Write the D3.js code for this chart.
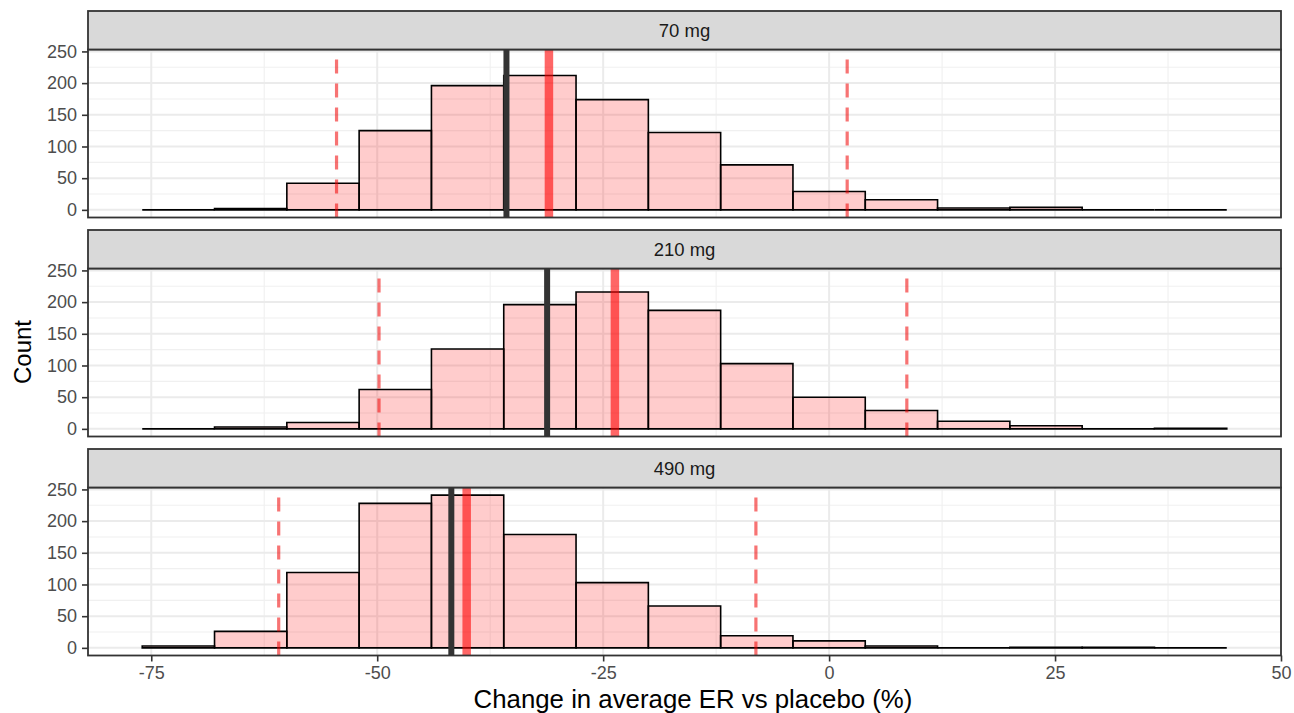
<!DOCTYPE html>
<html>
<head>
<meta charset="utf-8">
<script src="https://cdn.jsdelivr.net/npm/d3@7"></script>
<style>
  html, body { margin: 0; padding: 0; background: #ffffff; }
  svg { display: block; font-family: "Liberation Sans", Arial, sans-serif; }
</style>
</head>
<body>
<svg id="chart" width="1294" height="713"></svg>
<script>
// Dose groups shown as facets
const doses = ["70 mg", "210 mg", "490 mg"];

// Histogram bin edges (width 8)
const binStart = [-76, -68, -60, -52, -44, -36, -28, -20, -12, -4, 4, 12, 20, 28, 36];
const binEnd   = [-68, -60, -52, -44, -36, -28, -20, -12, -4, 4, 12, 20, 28, 36, 44];

// Counts per bin for each dose
const counts70  = [0, 2, 42, 125, 196, 212, 174, 122, 71, 29, 16, 3, 4, 0, 0];
const counts210 = [0, 3, 10, 62, 126, 196, 216, 187, 103, 50, 29, 12, 5, 0, 1];
const counts490 = [3, 26, 119, 228, 241, 179, 103, 66, 19, 11, 3, 0, 1, 1, 0];

// Reference lines per dose (% change)
const observedLine = [-35.7, -31.2, -41.8];   // dark solid
const medianLine   = [-31.0, -23.7, -40.1];   // red solid
const lowerLine    = [-54.5, -49.8, -60.9];   // red dashed
const upperLine    = [2.0, 8.6, -8.1];        // red dashed

// Axis ticks
const xTicks = [-75, -50, -25, 0, 25, 50];
const xMinor = [-62.5, -37.5, -12.5, 12.5, 37.5];
const yTicks = [0, 50, 100, 150, 200, 250];
const yMinor = [25, 75, 125, 175, 225];

const allCounts = [counts70, counts210, counts490];

const svg = d3.select("#chart");

const left = 88, right = 1281;
const top0 = 11, stripH = 38.5, panelH = 168, rowStep = 219;

// Shared x scale with 5% padding around the bin range
const xLo = d3.min(binStart), xHi = d3.max(binEnd);
const xPad = (xHi - xLo) * 0.05;
const x = d3.scaleLinear().domain([xLo - xPad, xHi + xPad]).range([left, right]);

const yMax = d3.max(allCounts.flat());
const yPad = yMax * 0.05;

const plainNum = d => String(d);

doses.forEach((dose, i) => {
  const stripTop = top0 + i * rowStep;
  const pTop = stripTop + stripH;
  const pBot = pTop + panelH;
  const y = d3.scaleLinear().domain([-yPad, yMax + yPad]).range([pBot, pTop]);

  const g = svg.append("g");

  // panel background
  g.append("rect").attr("x", left).attr("y", pTop)
    .attr("width", right - left).attr("height", panelH).attr("fill", "#ffffff");

  // minor grid
  g.selectAll(".ymin").data(yMinor).join("line")
    .attr("x1", left).attr("x2", right)
    .attr("y1", d => y(d)).attr("y2", d => y(d))
    .attr("stroke", "#F0F0F0").attr("stroke-width", 1.1);
  g.selectAll(".xmin").data(xMinor).join("line")
    .attr("y1", pTop).attr("y2", pBot)
    .attr("x1", d => x(d)).attr("x2", d => x(d))
    .attr("stroke", "#F0F0F0").attr("stroke-width", 1.1);
  // major grid
  g.selectAll(".ymaj").data(yTicks).join("line")
    .attr("x1", left).attr("x2", right)
    .attr("y1", d => y(d)).attr("y2", d => y(d))
    .attr("stroke", "#EBEBEB").attr("stroke-width", 2);
  g.selectAll(".xmaj").data(xTicks).join("line")
    .attr("y1", pTop).attr("y2", pBot)
    .attr("x1", d => x(d)).attr("x2", d => x(d))
    .attr("stroke", "#EBEBEB").attr("stroke-width", 2);

  // histogram bars (paths, so empty bins still show as a flat outline)
  const bins = binStart.map((s, k) => ({ x0: s, x1: binEnd[k], n: allCounts[i][k] }));
  g.selectAll(".bar").data(bins).join("path")
    .attr("d", d => `M${x(d.x0)},${y(0)}V${y(d.n)}H${x(d.x1)}V${y(0)}Z`)
    .attr("fill", "rgba(255,0,0,0.2)")
    .attr("stroke", "#000000")
    .attr("stroke-width", 1.6);

  // reference lines
  g.append("line")
    .attr("x1", x(observedLine[i])).attr("x2", x(observedLine[i]))
    .attr("y1", pBot).attr("y2", pTop)
    .attr("stroke", "#333333").attr("stroke-width", 6);
  g.append("line")
    .attr("x1", x(medianLine[i])).attr("x2", x(medianLine[i]))
    .attr("y1", pBot).attr("y2", pTop)
    .attr("stroke", "rgba(255,0,0,0.6)").attr("stroke-width", 8.5);
  [lowerLine[i], upperLine[i]].forEach(v => {
    g.append("line")
      .attr("x1", x(v)).attr("x2", x(v))
      .attr("y1", pBot).attr("y2", pTop)
      .attr("stroke", "rgba(240,0,0,0.55)").attr("stroke-width", 3.2)
      .attr("stroke-dasharray", "14 10");
  });

  // panel border
  g.append("rect").attr("x", left).attr("y", pTop)
    .attr("width", right - left).attr("height", panelH)
    .attr("fill", "none").attr("stroke", "#333333").attr("stroke-width", 1.8);

  // strip
  g.append("rect").attr("x", left).attr("y", stripTop)
    .attr("width", right - left).attr("height", stripH)
    .attr("fill", "#D9D9D9").attr("stroke", "#333333").attr("stroke-width", 1.8);
  g.append("text")
    .attr("x", (left + right) / 2).attr("y", stripTop + stripH / 2)
    .attr("dy", "0.35em").attr("text-anchor", "middle")
    .attr("font-size", 18.5).attr("fill", "#1A1A1A")
    .text(dose);

  // y axis
  const yAxis = d3.axisLeft(y).tickValues(yTicks).tickFormat(plainNum).tickSize(6).tickPadding(5);
  const ya = svg.append("g").attr("transform", `translate(${left},0)`).call(yAxis);
  ya.select(".domain").remove();
  ya.selectAll(".tick line").attr("stroke", "#333333").attr("stroke-width", 1.6);
  ya.selectAll(".tick text").attr("fill", "#4D4D4D").attr("font-size", 18)
    .attr("font-family", "Liberation Sans, Arial, sans-serif");

  // x axis on the bottom panel only
  if (i === doses.length - 1) {
    const xAxis = d3.axisBottom(x).tickValues(xTicks).tickFormat(plainNum).tickSize(6).tickPadding(5);
    const xa = svg.append("g").attr("transform", `translate(0,${pBot})`).call(xAxis);
    xa.select(".domain").remove();
    xa.selectAll(".tick line").attr("stroke", "#333333").attr("stroke-width", 1.6);
    xa.selectAll(".tick text").attr("fill", "#4D4D4D").attr("font-size", 18)
      .attr("font-family", "Liberation Sans, Arial, sans-serif");
  }
});

// axis titles
svg.append("text")
  .attr("x", 693).attr("y", 708)
  .attr("text-anchor", "middle").attr("font-size", 25.8).attr("fill", "#000000")
  .text("Change in average ER vs placebo (%)");

svg.append("text")
  .attr("transform", "translate(31,352) rotate(-90)")
  .attr("text-anchor", "middle").attr("font-size", 24).attr("fill", "#000000")
  .text("Count");
</script>
</body>
</html>
